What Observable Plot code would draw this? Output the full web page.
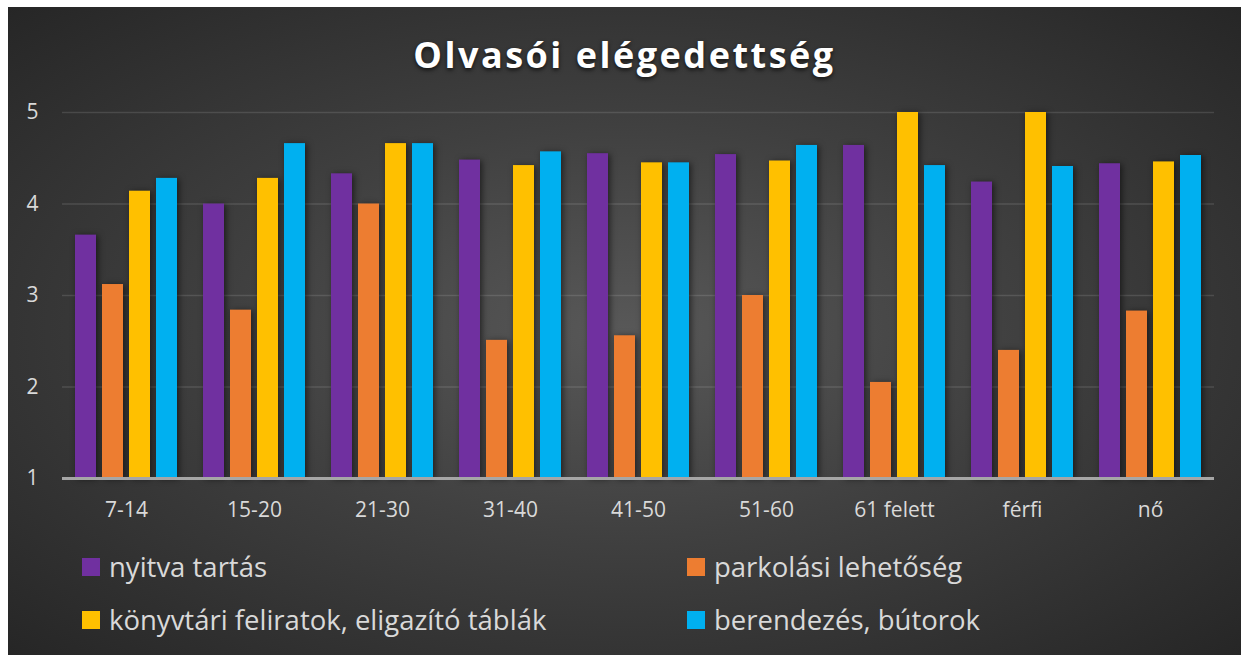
<!DOCTYPE html>
<html>
<head>
<meta charset="utf-8">
<script src="https://cdn.jsdelivr.net/npm/d3@7"></script>
<script src="https://cdn.jsdelivr.net/npm/@observablehq/plot@0.6"></script>
<style>
  html, body { margin: 0; padding: 0; background: #ffffff; }
  body { width: 1241px; height: 655px; position: relative; overflow: hidden; font-family: "Open Sans", sans-serif; }
  #panel { position: absolute; left: 8px; top: 7px; width: 1233px; height: 648px;
    background: radial-gradient(ellipse at 50% 50%, #585858 0%, #404040 45%, #262626 100%); }
  #title { position: absolute; left: 8px; width: 1233px; top: 37px; text-align: center;
    font-family: "Open Sans", sans-serif; font-weight: 700; font-size: 36px; line-height: 36px;
    letter-spacing: 2.5px; color: #ffffff; text-shadow: 0 2px 4px rgba(0,0,0,0.7); }
  #chart { position: absolute; left: 0; top: 90px; }
  #chart svg g[aria-label="bar"] { filter: drop-shadow(2px 1px 3px rgba(0,0,0,0.55)); }
  #legend { position: absolute; left: 82px; top: 540px; display: grid;
    grid-template-columns: 605px auto; grid-auto-rows: 53px; align-items: center; }
  .item { display: flex; align-items: center; color: #d9d9d9; font-size: 27.5px; line-height: 30px; }
  .sw { width: 18px; height: 18px; margin-right: 9px; flex: none; }
</style>
</head>
<body>
<div id="panel"></div>
<div id="title">Olvasói elégedettség</div>
<div id="chart"></div>
<div id="legend"></div>
<script>
const categories = ["7-14", "15-20", "21-30", "31-40", "41-50", "51-60", "61 felett", "férfi", "nő"];
const series = ["nyitva tartás", "parkolási lehetőség", "könyvtári feliratok, eligazító táblák", "berendezés, bútorok"];
const nyitvaTartas = [3.66, 4.00, 4.33, 4.48, 4.55, 4.54, 4.64, 4.24, 4.44];
const parkolas     = [3.12, 2.84, 4.00, 2.51, 2.56, 3.00, 2.05, 2.40, 2.83];
const feliratok    = [4.14, 4.28, 4.66, 4.42, 4.45, 4.47, 5.00, 5.00, 4.46];
const berendezes   = [4.28, 4.66, 4.66, 4.57, 4.45, 4.64, 4.42, 4.41, 4.53];
const colors = ["#7030A0", "#ED7D31", "#FFC000", "#00B0F0"];
const yTicks = [1, 2, 3, 4, 5];

const seriesValues = [nyitvaTartas, parkolas, feliratok, berendezes];
const data = [];
categories.forEach((c, i) => {
  series.forEach((s, j) => data.push({category: c, series: s, value: seriesValues[j][i]}));
});

const chart = Plot.plot({
  width: 1241,
  height: 430,
  marginLeft: 61,
  marginRight: 27,
  marginTop: 22,
  marginBottom: 42,
  style: {background: "transparent", color: "#d9d9d9", fontFamily: "Open Sans, sans-serif", fontSize: "21px", overflow: "visible"},
  fx: {domain: categories, padding: 0, label: null, axis: null},
  x: {domain: series, paddingInner: 0.214, paddingOuter: 0.393, axis: null},
  y: {domain: [1, 5], axis: null},
  color: {domain: series, range: colors},
  marks: [
    Plot.ruleY(yTicks.slice(1), {stroke: "#ffffff", strokeOpacity: 0.12, strokeWidth: 1.5}),
    Plot.barY(data, {fx: "category", x: "series", y1: 1, y2: "value", fill: "series"}),
    Plot.ruleY([1], {stroke: "#a6a6a6", strokeWidth: 3}),
    Plot.axisFx({anchor: "bottom", tickSize: 0, tickPadding: 24, fontSize: 21, label: null}),
    Plot.axisY({ticks: yTicks, tickSize: 0, tickPadding: 24, fontSize: 21, label: null, tickFormat: d3.format("d")})
  ]
});
document.getElementById("chart").appendChild(chart);

const legend = document.getElementById("legend");
series.forEach((s, j) => {
  const item = document.createElement("div");
  item.className = "item";
  const sw = document.createElement("span");
  sw.className = "sw";
  sw.style.background = colors[j];
  const t = document.createElement("span");
  t.textContent = s;
  item.appendChild(sw);
  item.appendChild(t);
  legend.appendChild(item);
});
</script>
</body>
</html>
